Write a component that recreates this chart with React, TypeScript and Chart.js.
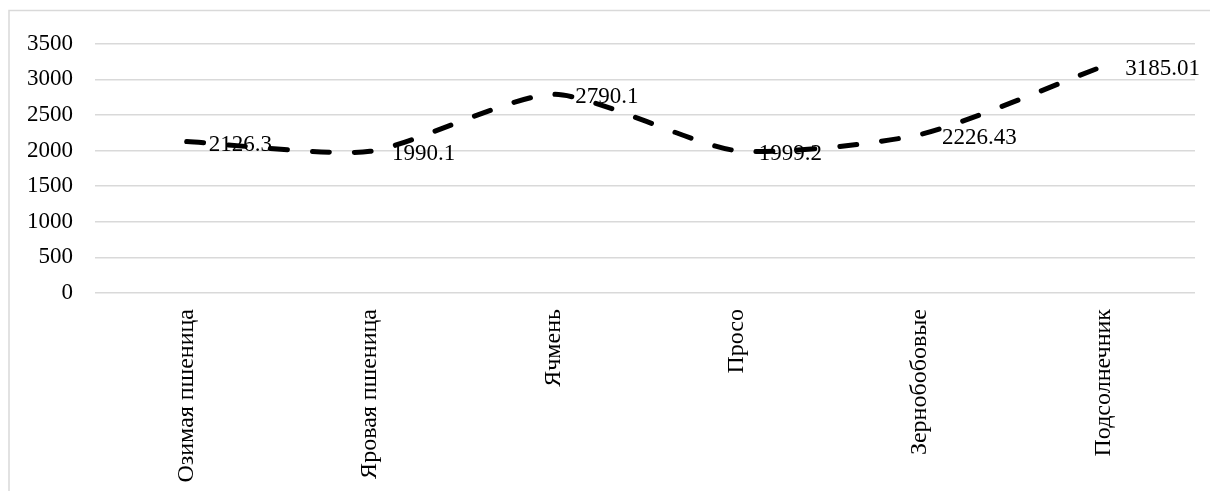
import React, { useEffect, useRef } from "react";
import { Chart, registerables } from "chart.js";

Chart.register(...registerables);

const categories = ["Озимая пшеница", "Яровая пшеница", "Ячмень", "Просо", "Зернобобовые", "Подсолнечник"];
const values = [2126.3, 1990.1, 2790.1, 1999.2, 2226.43, 3185.01];
const valueLabels = ["2126.3", "1990.1", "2790.1", "1999.2", "2226.43", "3185.01"];
const yMin = 0;
const yMax = 3500;
const yStep = 500;

const FONT = "'Liberation Serif', 'Times New Roman', serif";

export default function App() {
  const ref = useRef<HTMLCanvasElement | null>(null);
  useEffect(() => {
    if (!ref.current) return;
    const framePlugin = {
      id: "frame",
      beforeDraw(chart: any) {
        const ctx = chart.ctx;
        ctx.save();
        ctx.fillStyle = "#ffffff";
        ctx.fillRect(0, 0, chart.width, chart.height);
        ctx.strokeStyle = "#d9d9d9";
        ctx.lineWidth = 1.5;
        ctx.beginPath();
        ctx.moveTo(1, chart.height);
        ctx.lineTo(1, 2.5);
        ctx.lineTo(chart.width, 2.5);
        ctx.stroke();
        ctx.restore();
      },
    };
    const labelPlugin = {
      id: "valLabels",
      afterDatasetsDraw(chart: any) {
        const ctx = chart.ctx;
        const meta = chart.getDatasetMeta(0);
        ctx.save();
        ctx.font = `23px ${FONT}`;
        ctx.fillStyle = "#000000";
        ctx.textAlign = "left";
        ctx.textBaseline = "middle";
        meta.data.forEach((pt: any, i: number) => {
          ctx.fillText(valueLabels[i], pt.x + 22, pt.y + 3);
        });
        ctx.restore();
      },
    };
    const chart = new Chart(ref.current, {
      type: "line",
      data: {
        labels: categories,
        datasets: [
          {
            data: values,
            borderColor: "#000000",
            borderWidth: 5,
            borderDash: [17, 25],
            borderCapStyle: "round",
            tension: 0.22,
            pointRadius: 0,
            fill: false,
          },
        ],
      },
      options: {
        responsive: false,
        animation: false,
        layout: { padding: { top: 31, right: 23, left: 0, bottom: 0 } },
        plugins: { legend: { display: false }, tooltip: { enabled: false } },
        scales: {
          x: {
            offset: true,
            grid: { display: false, drawTicks: false },
            border: { display: false },
            ticks: {
              minRotation: 90,
              maxRotation: 90,
              padding: 16,
              color: "#000000",
              font: { family: FONT, size: 24 },
            },
            afterFit(scale: any) {
              scale.height = 198;
            },
          },
          y: {
            min: yMin,
            max: yMax,
            grid: { color: "#d9d9d9", lineWidth: 1.5, drawTicks: false },
            border: { display: false },
            ticks: {
              stepSize: yStep,
              padding: 22,
              color: "#000000",
              font: { family: FONT, size: 23 },
              callback: (v: any) => String(v),
            },
            afterFit(scale: any) {
              scale.width = 87;
            },
          },
        },
      },
      plugins: [framePlugin, labelPlugin],
    });
    return () => chart.destroy();
  }, []);
  return <canvas ref={ref} width={1210} height={483} style={{ display: "block" }} />;
}
